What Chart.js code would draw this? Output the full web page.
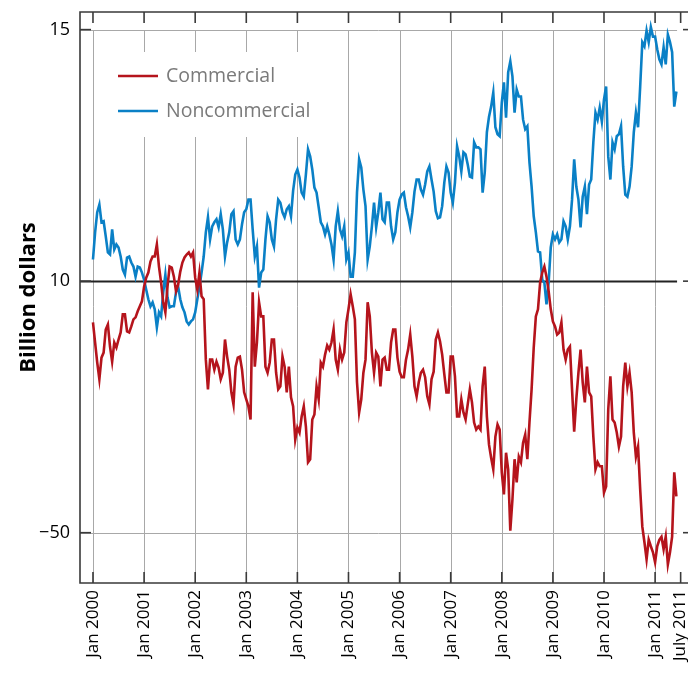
<!DOCTYPE html>
<html>
<head>
<meta charset="utf-8">
<script src="https://cdn.jsdelivr.net/npm/chart.js@4/dist/chart.umd.min.js"></script>
<style>
html,body{margin:0;padding:0;background:#fff;overflow:hidden;}
canvas{display:block;}
</style>
</head>
<body>
<canvas id="c" width="688" height="677"></canvas>
<script>
// ---- data (semi-monthly samples starting Jan 2000) ----
const startYear = 2000;
const samplesPerYear = 24;
const seriesNames = ['Commercial', 'Noncommercial'];
const commercial = [
9.18,8.78,8.38,8.05,8.48,8.58,9.04,9.14,8.70,8.40,8.78,8.68,8.84,8.98,9.34,9.34,9.00,8.98,9.10,9.24,
9.28,9.40,9.50,9.60,9.89,10.07,10.17,10.39,10.49,10.49,10.73,10.29,9.97,9.58,9.38,9.89,10.29,10.27,10.09,9.80,
9.93,10.19,10.37,10.47,10.53,10.57,10.49,10.57,10.07,9.83,10.17,9.70,9.64,8.44,7.85,8.44,8.44,8.24,8.40,8.28,
8.05,8.18,8.84,8.50,8.24,7.79,7.55,8.30,8.48,8.50,8.24,7.79,7.65,7.51,7.25,9.78,8.30,8.78,9.58,9.30,
9.30,8.30,8.18,8.38,8.84,8.84,8.18,7.85,7.91,8.50,8.30,7.79,8.30,7.69,7.51,6.85,7.09,6.99,7.31,7.51,
7.11,6.40,6.46,7.25,7.35,7.91,7.65,8.38,8.30,8.54,8.72,8.64,8.78,9.04,8.44,8.24,8.64,8.44,8.58,9.18,
9.44,9.74,9.50,9.24,7.99,7.39,7.65,8.18,8.44,9.58,9.30,8.58,8.18,8.58,8.50,7.91,8.44,8.48,8.24,8.24,
8.78,9.04,9.04,8.48,8.20,8.09,8.09,8.44,8.64,8.94,8.50,7.91,7.71,7.99,8.18,8.24,8.09,7.71,7.55,8.05,
8.20,8.84,8.98,8.80,8.54,8.15,7.79,7.79,8.50,8.50,8.11,7.31,7.31,7.65,7.39,7.25,7.55,7.85,7.59,7.19,
7.05,7.11,7.05,7.91,8.30,7.31,6.75,6.49,6.26,6.91,7.15,7.05,6.20,5.76,6.59,6.26,5.04,5.66,6.46,6.00,
6.51,6.40,6.79,6.95,6.46,7.19,7.85,8.68,9.30,9.44,9.97,10.17,10.29,10.09,9.80,9.44,9.20,9.10,8.94,8.98,
9.18,8.64,8.44,8.64,8.70,7.85,7.01,7.65,8.18,8.64,7.99,7.59,8.30,7.79,7.71,6.91,6.26,6.40,6.32,6.32,
5.80,5.92,7.45,8.11,7.25,7.19,6.99,6.71,6.91,7.91,8.38,7.91,8.18,7.79,6.99,6.51,6.71,5.86,5.12,4.81,
4.47,4.86,4.73,4.61,4.41,4.73,4.86,4.92,4.67,4.92,4.37,4.61,4.92,6.20,5.72
];
const noncommercial = [
10.43,10.97,11.37,11.52,11.17,11.19,10.89,10.57,10.53,11.03,10.63,10.73,10.67,10.49,10.23,10.13,10.47,10.49,10.37,10.29,
10.09,10.29,10.27,10.17,10.03,9.83,9.64,9.50,9.58,9.44,9.08,9.38,9.30,9.78,10.13,9.68,9.48,9.50,9.50,9.78,
9.89,9.64,9.48,9.38,9.20,9.14,9.20,9.24,9.38,9.64,9.89,10.17,10.49,10.97,11.27,10.83,11.09,11.17,11.23,11.07,
11.33,11.03,10.49,10.77,10.97,11.33,11.39,10.83,10.73,10.83,11.13,11.37,11.43,11.62,11.62,11.03,10.49,10.69,9.87,10.17,
10.23,10.83,11.29,11.17,10.83,10.69,11.23,11.62,11.56,11.37,11.27,11.43,11.49,11.29,11.80,12.12,12.22,12.06,11.76,11.68,
12.12,12.62,12.48,12.22,11.86,11.76,11.47,11.17,11.09,10.93,11.09,10.93,10.73,10.43,11.09,11.39,11.03,10.89,11.09,10.43,
10.57,10.09,10.09,10.57,11.76,12.42,12.26,11.82,11.49,10.43,10.69,11.09,11.56,11.07,11.37,11.76,11.23,11.17,11.56,11.56,
11.09,10.83,10.97,11.37,11.62,11.72,11.76,11.47,11.29,11.07,11.37,11.78,12.02,12.02,11.82,11.72,11.92,12.18,12.28,12.02,
11.78,11.39,11.25,11.27,11.49,11.96,12.28,12.16,11.76,11.56,11.96,12.68,12.48,12.18,12.56,12.52,12.32,12.08,12.06,12.76,
12.66,12.66,12.62,11.76,12.16,12.96,13.27,13.47,13.75,13.06,12.92,12.88,13.55,13.95,13.25,14.15,14.37,14.07,13.35,13.81,
13.67,13.67,13.21,13.02,13.08,12.36,11.88,11.29,10.97,10.59,10.57,10.03,9.97,9.54,9.97,10.67,10.93,10.83,10.93,10.77,
10.83,11.19,11.09,10.83,11.09,11.62,12.42,11.88,11.62,11.07,11.68,11.88,11.33,11.92,12.02,12.76,13.35,13.21,13.45,13.17,
13.61,13.87,12.48,12.02,12.76,12.62,12.88,12.92,13.08,12.28,11.72,11.68,11.88,12.28,12.96,13.35,13.06,13.87,14.75,14.67,
14.98,14.75,15.05,14.86,14.86,14.61,14.41,14.31,14.65,14.31,14.90,14.75,14.55,13.47,13.77
];
const xTickValues = [2000,2001,2002,2003,2004,2005,2006,2007,2008,2009,2010,2011,2011.5];
const xTickLabels = ['Jan 2000','Jan 2001','Jan 2002','Jan 2003','Jan 2004','Jan 2005','Jan 2006','Jan 2007','Jan 2008','Jan 2009','Jan 2010','Jan 2011','July 2011'];
const yTickValues = [5, 10, 15];
const yTickLabels = ['\u221250', '10', '15'];
const yAxisTitle = 'Billion dollars';

// ---- styling ----
const RED = '#b5141c';
const BLUE = '#0a80c6';
const FONT = '"Open Sans", "Noto Sans", sans-serif';
const X_MIN = 1999.746, X_MAX = 2011.644;
const GRID_END = 2011.43;

function toPoints(arr){ return arr.map((v,i)=>({x: startYear + i / samplesPerYear, y: v})); }

const framePlugin = {
  id: 'frame',
  beforeDatasetsDraw(chart){
    const ctx = chart.ctx, a = chart.chartArea;
    const xs = chart.scales.x, ys = chart.scales.y;
    const right = a.right + 5;
    const gEnd = xs.getPixelForValue(GRID_END);
    ctx.save();
    // vertical gridlines
    ctx.strokeStyle = '#a8a8a8'; ctx.lineWidth = 1;
    const yTop = Math.round(ys.getPixelForValue(15)) + 0.5;
    xTickValues.forEach(v=>{
      if (v % 1 !== 0) return;
      const px = Math.round(xs.getPixelForValue(v)) + 0.5;
      ctx.beginPath(); ctx.moveTo(px, yTop); ctx.lineTo(px, a.bottom); ctx.stroke();
    });
    // horizontal lines
    yTickValues.forEach(v=>{
      const py = Math.round(ys.getPixelForValue(v)) + 0.5;
      ctx.beginPath();
      if (v === 10){ ctx.strokeStyle = '#222'; ctx.lineWidth = 2; }
      else { ctx.strokeStyle = '#a8a8a8'; ctx.lineWidth = 1; }
      ctx.moveTo(a.left, py); ctx.lineTo(gEnd, py); ctx.stroke();
    });
    // legend background
    ctx.fillStyle = '#fff';
    ctx.fillRect(108, 52, 215, 85);
    // frame
    ctx.strokeStyle = '#3a3a3a'; ctx.lineWidth = 1.6;
    ctx.beginPath();
    ctx.moveTo(a.left, a.top); ctx.lineTo(right, a.top); ctx.lineTo(right, a.bottom);
    ctx.lineTo(a.left, a.bottom); ctx.closePath(); ctx.stroke();
    // tick marks
    ctx.lineWidth = 1.6;
    xTickValues.forEach(v=>{
      const px = xs.getPixelForValue(v);
      ctx.beginPath(); ctx.moveTo(px, a.top); ctx.lineTo(px, a.top + 11); ctx.stroke();
      ctx.beginPath(); ctx.moveTo(px, a.bottom); ctx.lineTo(px, a.bottom - 11); ctx.stroke();
    });
    yTickValues.forEach(v=>{
      const py = ys.getPixelForValue(v);
      ctx.beginPath(); ctx.moveTo(a.left, py); ctx.lineTo(a.left + 11, py); ctx.stroke();
      ctx.beginPath(); ctx.moveTo(right, py); ctx.lineTo(right - 10, py); ctx.stroke();
    });
    // legend
    const items = [[seriesNames[0], RED, 76], [seriesNames[1], BLUE, 111]];
    ctx.font = '19.5px ' + FONT; ctx.textBaseline = 'middle'; ctx.textAlign = 'left';
    items.forEach(([name, col, y])=>{
      ctx.strokeStyle = col; ctx.lineWidth = 2.6;
      ctx.beginPath(); ctx.moveTo(118, y); ctx.lineTo(158, y); ctx.stroke();
      ctx.fillStyle = '#7a7a7a'; ctx.fillText(name, 166, y);
    });
    ctx.restore();
  }
};

new Chart(document.getElementById('c'), {
  type: 'line',
  data: {
    datasets: [
      { label: seriesNames[0], data: toPoints(commercial), borderColor: RED, borderWidth: 2.6, pointRadius: 0, fill: false, tension: 0 },
      { label: seriesNames[1], data: toPoints(noncommercial), borderColor: BLUE, borderWidth: 2.6, pointRadius: 0, fill: false, tension: 0 }
    ]
  },
  options: {
    responsive: false, animation: false, devicePixelRatio: 1,
    layout: { padding: { top: 12, left: 0, right: 0, bottom: 0 } },
    plugins: { legend: { display: false }, tooltip: { enabled: false } },
    scales: {
      x: {
        type: 'linear', min: X_MIN, max: X_MAX,
        grid: { display: false, drawTicks: false }, border: { display: false },
        afterBuildTicks: s => { s.ticks = xTickValues.map(v=>({value: v})); },
        afterFit: s => { s.height = 94; s.paddingLeft = 0; s.paddingRight = 0; },
        ticks: {
          autoSkip: false, minRotation: 90, maxRotation: 90, padding: 7,
          color: '#000', font: { family: FONT, size: 17 },
          callback: (v, i) => xTickLabels[i]
        }
      },
      y: {
        type: 'linear', min: 4.0, max: 15.35,
        grid: { display: false, drawTicks: false }, border: { display: false },
        afterBuildTicks: s => { s.ticks = yTickValues.map(v=>({value: v})); },
        afterFit: s => { s.width = 80; s.paddingTop = 0; s.paddingBottom = 0; },
        ticks: {
          padding: 10, color: '#000', font: { family: FONT, size: 18 },
          callback: (v, i) => yTickLabels[i]
        },
        title: { display: true, text: yAxisTitle, color: '#000', font: { family: FONT, size: 22, weight: 'bold' }, padding: { top: 16, bottom: 0 } }
      }
    }
  },
  plugins: [framePlugin]
});
</script>
</body>
</html>
